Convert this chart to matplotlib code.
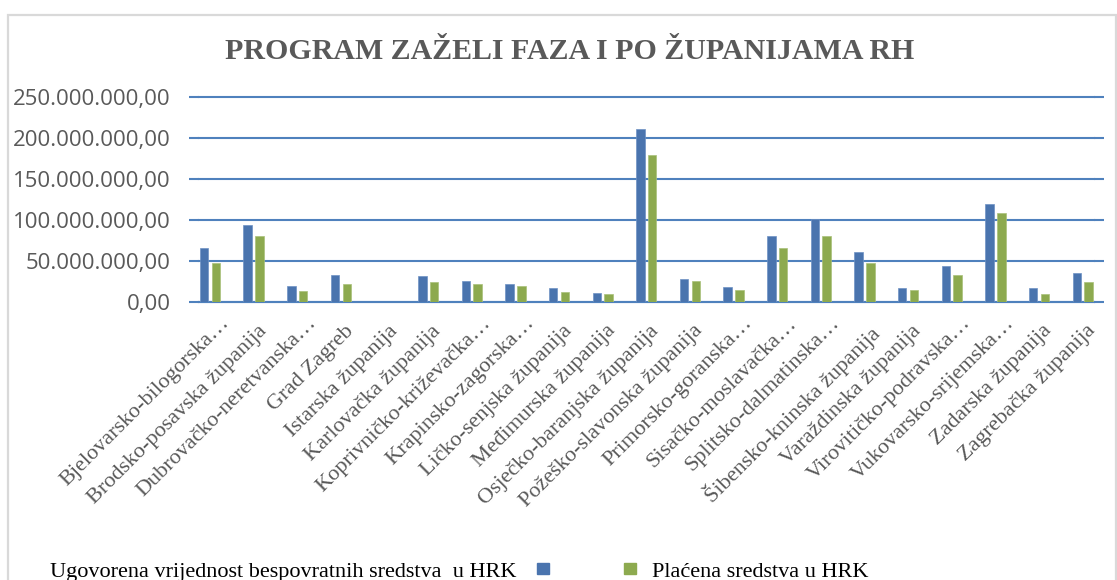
import matplotlib
matplotlib.use("Agg")
import matplotlib.pyplot as plt
from matplotlib.patches import Rectangle
from matplotlib.ticker import FuncFormatter
import numpy as np

categories = [
    "Bjelovarsko-bilogorska…", "Brodsko-posavska županija", "Dubrovačko-neretvanska…",
    "Grad Zagreb", "Istarska županija", "Karlovačka županija", "Koprivničko-križevačka…",
    "Krapinsko-zagorska…", "Ličko-senjska županija", "Međimurska županija",
    "Osječko-baranjska županija", "Požeško-slavonska županija", "Primorsko-goranska…",
    "Sisačko-moslavačka…", "Splitsko-dalmatinska…", "Šibensko-kninska županija",
    "Varaždinska županija", "Virovitičko-podravska…", "Vukovarsko-srijemska…",
    "Zadarska županija", "Zagrebačka županija",
]
ugovorena = [66.3e6, 93.5e6, 19.1e6, 33.3e6, 0.0, 31.3e6, 25.2e6, 22.0e6, 17.5e6, 11.4e6,
             211.4e6, 28.0e6, 17.9e6, 80.9e6, 101.2e6, 61.0e6, 17.1e6, 43.5e6, 119.9e6,
             17.1e6, 35.8e6]
placena = [47.2e6, 80.5e6, 13.4e6, 22.4e6, 0.0, 24.8e6, 21.5e6, 19.9e6, 12.2e6, 10.2e6,
           178.9e6, 25.6e6, 14.2e6, 66.3e6, 80.9e6, 47.6e6, 15.0e6, 32.5e6, 108.5e6,
           9.3e6, 24.0e6]
yticks = [0, 50e6, 100e6, 150e6, 200e6, 250e6]
title = "PROGRAM ZAŽELI FAZA I PO ŽUPANIJAMA RH"
legend_labels = ["Ugovorena vrijednost bespovratnih sredstva  u HRK", "Plaćena sredstva u HRK"]

BLUE = "#4A74AE"
GREEN = "#8DAA4F"
GRID = "#4F81BD"
GRAY = "#595959"

W, H = 1117, 580
fig = plt.figure(figsize=(W / 100, H / 100), dpi=100)

def fx(px):
    return px / W

def fy(py):
    return 1 - py / H

# chart border
fig.patches.append(Rectangle((fx(8), fy(600)), fx(1116) - fx(8), fy(15) - fy(600),
                             transform=fig.transFigure, fill=False,
                             edgecolor="#D9D9D9", linewidth=1.6))

ax = fig.add_axes([fx(199), fy(302), fx(1094) - fx(199), fy(97) - fy(302)])
x = np.arange(len(categories))
bw = 0.195
off = 0.135
ax.bar(x - off, ugovorena, bw, color=BLUE, edgecolor="#6E92C4", linewidth=0.5, zorder=3)
ax.bar(x + off, placena, bw, color=GREEN, edgecolor="#A9C07A", linewidth=0.5, zorder=3)

ax.set_xlim(-0.252, 20.26)
ax.set_ylim(0, 250e6)
ax.set_yticks(yticks)
ax.yaxis.set_major_formatter(FuncFormatter(
    lambda v, p: f"{v:,.2f}".replace(",", "X").replace(".", ",").replace("X", ".")))
ax.grid(axis="y", color=GRID, linewidth=1.5, zorder=0)
ax.set_axisbelow(True)
for gl in ax.get_ygridlines():
    gl.set_clip_on(False)
for s in ["top", "left", "right"]:
    ax.spines[s].set_visible(False)
ax.spines["bottom"].set_color(GRID)
ax.spines["bottom"].set_linewidth(1.5)
ax.tick_params(axis="y", which="both", direction="out", length=7.2, width=1.5,
               color=GRID, left=True, right=True, pad=13,
               labelsize=16, labelcolor=GRAY)
for lab in ax.get_yticklabels():
    lab.set_fontfamily("Open Sans")
ax.set_xticks([])

for i, name in enumerate(categories):
    if name.endswith("…"):
        dx, dy = 7.0, -8.5
    else:
        dx, dy = 2.5, -14
    ax.annotate(name, xy=(i, 0), xycoords=("data", "axes fraction"),
                xytext=(dx, dy), textcoords="offset points",
                rotation=45, rotation_mode="anchor", ha="right", va="top",
                fontsize=16, color=GRAY, family="Liberation Serif")

fig.text(0.5 * (fx(226) + fx(913)), fy(59), title, ha="center", va="baseline",
         fontsize=21.5, fontweight="bold", color=GRAY, family="Liberation Serif")

# legend
fig.text(fx(50), fy(577), legend_labels[0], ha="left", va="baseline",
         fontsize=16, color="#000000", family="Liberation Serif")
fig.patches.append(Rectangle((fx(537), fy(574)), fx(12), 11 / H,
                             transform=fig.transFigure, color=BLUE))
fig.patches.append(Rectangle((fx(624), fy(574)), fx(12), 11 / H,
                             transform=fig.transFigure, color=GREEN))
fig.text(fx(652), fy(577), legend_labels[1], ha="left", va="baseline",
         fontsize=16, color="#000000", family="Liberation Serif")

fig.savefig("out.png", dpi=100, facecolor="white")
